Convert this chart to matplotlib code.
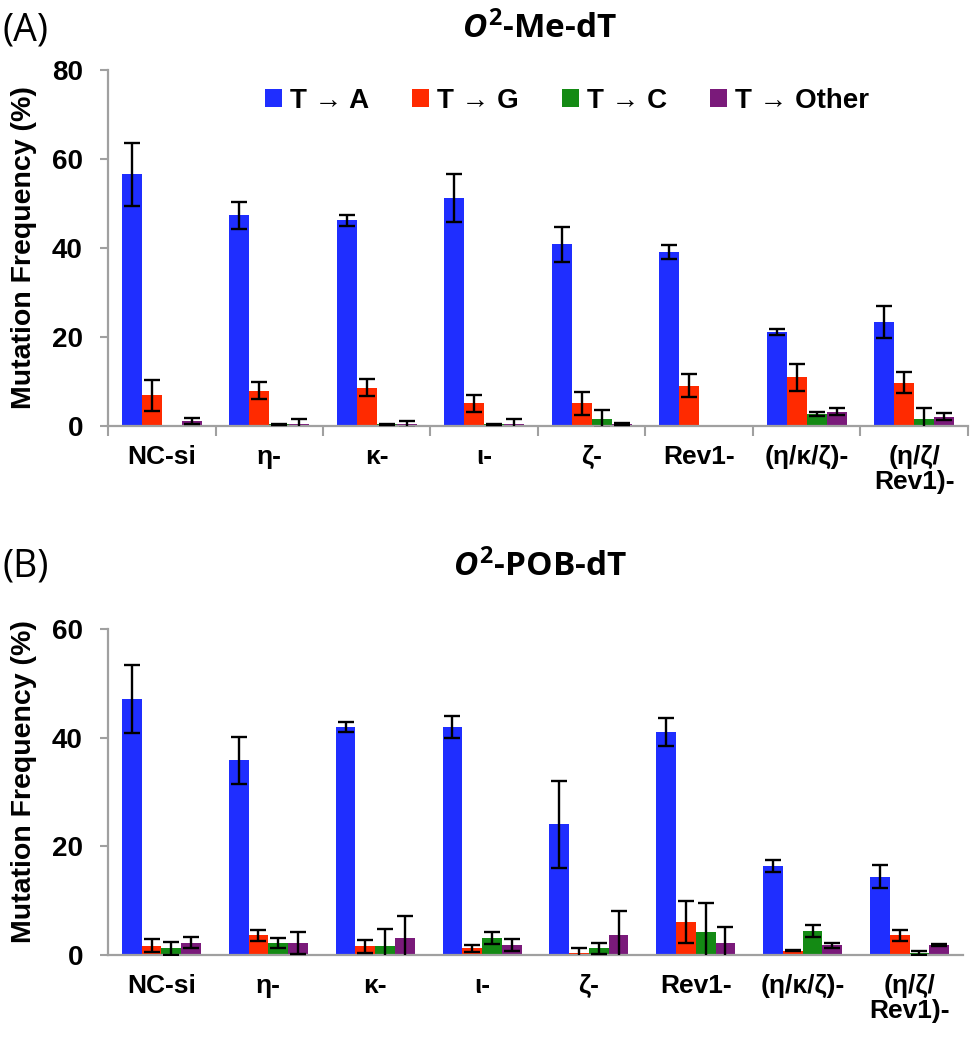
import numpy as np
import matplotlib
matplotlib.use('Agg')
import matplotlib.pyplot as plt
from matplotlib.patches import Patch

plt.rcParams['font.family'] = ['Liberation Sans', 'DejaVu Sans']
plt.rcParams['font.weight'] = 'bold'
plt.rcParams['mathtext.fontset'] = 'custom'
plt.rcParams['mathtext.it'] = 'Open Sans:italic:bold'
plt.rcParams['mathtext.bf'] = 'Open Sans:bold'
plt.rcParams['mathtext.rm'] = 'Open Sans:bold'

groups = ['NC-si', 'η-', 'κ-', 'ι-', 'ζ-', 'Rev1-', '(η/κ/ζ)-', '(η/ζ/\nRev1)-']
series = ['T → A', 'T → G', 'T → C', 'T → Other']
colors = ['#1f2eff', '#ff2a00', '#148a14', '#7a1a7a']

# (A) O2-Me-dT
me_ta = [56.5, 47.3, 46.2, 51.3, 40.8, 39.1, 21.1, 23.4]
me_ta_err = [7.0, 3.0, 1.2, 5.4, 4.0, 1.6, 0.7, 3.6]
me_tg = [6.8, 7.9, 8.5, 5.0, 5.0, 9.0, 10.9, 9.7]
me_tg_err = [3.5, 1.9, 1.9, 1.9, 2.5, 2.6, 3.0, 2.4]
me_tc = [0.0, 0.3, 0.3, 0.3, 1.5, 0.0, 2.6, 1.5]
me_tc_err = [0.0, 0.1, 0.1, 0.1, 2.0, 0.0, 0.5, 2.5]
me_to = [1.0, 0.4, 0.3, 0.4, 0.4, 0.0, 3.1, 2.0]
me_to_err = [0.7, 1.2, 0.8, 1.2, 0.2, 0.0, 0.8, 0.8]

# (B) O2-POB-dT
pob_ta = [47.1, 35.8, 42.0, 42.0, 24.1, 41.0, 16.4, 14.4]
pob_ta_err = [6.2, 4.4, 0.9, 2.0, 8.0, 2.6, 1.1, 2.1]
pob_tg = [1.7, 3.6, 1.6, 1.2, 0.3, 6.1, 0.8, 3.6]
pob_tg_err = [1.2, 1.0, 1.2, 0.7, 1.0, 3.9, 0.1, 1.0]
pob_tc = [1.2, 2.2, 1.6, 3.2, 1.2, 4.2, 4.5, 0.4]
pob_tc_err = [1.2, 1.0, 3.1, 1.1, 1.0, 5.3, 1.1, 0.4]
pob_to = [2.3, 2.2, 3.2, 1.8, 3.6, 2.2, 1.8, 1.8]
pob_to_err = [1.1, 2.1, 3.9, 1.1, 4.5, 2.9, 0.5, 0.2]

W, H = 973, 1050
fig = plt.figure(figsize=(W / 100, H / 100), dpi=100)
grey = '#a0a0a0'
bw = 0.185


def panel(rect, vals, errs, ymax, boundary_ticks):
    ax = fig.add_axes(rect)
    x = np.arange(len(groups)) + 0.5
    for j, (v, e) in enumerate(zip(vals, errs)):
        xs = x + (j - 1.5) * bw
        ax.bar(xs, v, width=bw, color=colors[j], edgecolor='none', zorder=2)
        v = np.array(v)
        e = np.array(e)
        m = e > 0
        ax.errorbar(xs[m], v[m], yerr=e[m], fmt='none', ecolor='black',
                    elinewidth=1.7, capsize=5.5, capthick=1.7, zorder=3)
    ax.set_xlim(0, len(groups))
    ax.set_ylim(0, ymax)
    ax.set_yticks(np.arange(0, ymax + 1, 20))
    ax.set_xticks(np.arange(len(groups) + 1))
    ax.set_xticklabels([])
    ax.set_xticks(x, minor=True)
    ax.set_xticklabels(groups, minor=True, fontsize=19, fontweight='bold',
                       linespacing=1.05)
    ax.tick_params(axis='x', which='minor', length=0, pad=14)
    ax.tick_params(axis='x', which='major', length=7 if boundary_ticks else 0,
                   width=1.5, color=grey)
    ax.tick_params(axis='y', length=6, width=1.5, color=grey, pad=12,
                   labelsize=20)
    for t in ax.get_yticklabels():
        t.set_fontweight('bold')
    for s in ['top', 'right']:
        ax.spines[s].set_visible(False)
    for s in ['left', 'bottom']:
        ax.spines[s].set_color(grey)
        ax.spines[s].set_linewidth(1.6)
    return ax


ax1 = panel([108 / W, 1 - 425.7 / H, (968 - 108) / W, (425.7 - 70) / H],
            [me_ta, me_tg, me_tc, me_to],
            [me_ta_err, me_tg_err, me_tc_err, me_to_err], 80, True)
ax2 = panel([108 / W, 1 - 955 / H, (963 - 108) / W, (955 - 629) / H],
            [pob_ta, pob_tg, pob_tc, pob_to],
            [pob_ta_err, pob_tg_err, pob_tc_err, pob_to_err], 60, False)

for yc in [248, 782]:
    fig.text(24 / W, 1 - yc / H, 'Mutation Frequency (%)', rotation=90,
             ha='center', va='center', fontsize=20.5, fontweight='bold')

fig.text(540 / W, 1 - 29 / H, r'$\mathit{O}^{\mathbf{2}}$-Me-dT', ha='center',
         va='center', fontsize=24, family='Open Sans', fontweight='bold')
fig.text(540 / W, 1 - 567 / H, r'$\mathit{O}^{\mathbf{2}}$-POB-dT', ha='center',
         va='center', fontsize=24, family='Open Sans', fontweight='bold')
fig.text(2 / W, 1 - 30 / H, '(A)', ha='left', va='center', fontsize=27,
         family='Open Sans', fontweight='normal')
fig.text(2 / W, 1 - 566 / H, '(B)', ha='left', va='center', fontsize=27,
         family='Open Sans', fontweight='normal')

handles = [Patch(facecolor=c, edgecolor='none') for c in colors]
fig.legend(handles, series, ncol=4, loc='center', frameon=False,
           bbox_to_anchor=(567 / W, 1 - 101 / H),
           handlelength=0.6, handleheight=0.6, handletextpad=0.3,
           columnspacing=1.55, prop={'weight': 'bold', 'size': 20})

fig.savefig('out.png', dpi=100)
